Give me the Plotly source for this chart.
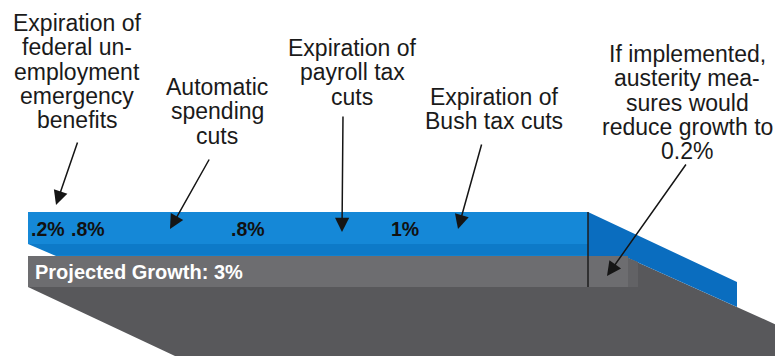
import plotly.graph_objects as go

# ---------------- data ----------------
cut_names = ["Federal unemployment emergency benefits", "Automatic spending cuts",
             "Payroll tax cuts", "Bush tax cuts"]
cut_values = [0.2, 0.8, 0.8, 1.0]          # % of growth removed
projected_growth = 3.0                      # %
projected_label = "Projected Growth: 3%"
cut_labels = [".2%", ".8%", ".8%", "1%"]

label_lines = [
    ["Expiration of", "federal un-", "employment", "emergency", "benefits"],
    ["Automatic", "spending", "cuts"],
    ["Expiration of", "payroll tax", "cuts"],
    ["Expiration of", "Bush tax cuts"],
    ["If implemented,", "austerity mea-", "sures would", "reduce growth to", "0.2%"],
]

# ---------------- layout constants ----------------
W, H = 775, 356
X0_PX, PX_PER_PCT = 28, 200          # x axis: 0% at 28px, 200px per 1%
FONT = "Liberation Sans, Arial, sans-serif"
BLUE = "#1588d7"
BLUE_DARK = "#0d7ac8"
BLUE_SIDE = "#0a6dbf"
GRAY_BAR = "#6d6d70"
GRAY_FLOOR = "#58585b"

def px_to_x(px):
    return (px - X0_PX) / PX_PER_PCT

x_min, x_max = px_to_x(0), px_to_x(W)

blue_top, blue_bot = 212, 255.5
gray_top, gray_bot = 256, 287
depth_dx = px_to_x(737) - px_to_x(588)   # perspective offset (x units)
depth_dy = 70                              # perspective offset (px units)

bases = []
acc = 0.0
for v in cut_values:
    bases.append(acc)
    acc += v
total_cuts = acc

fig = go.Figure()

# stacked blue bar of cuts
for name, v, b in zip(cut_names, cut_values, bases):
    fig.add_trace(go.Bar(
        orientation="h", y=[(blue_top + blue_bot) / 2], x=[v], base=[b],
        width=blue_bot - blue_top, marker=dict(color=BLUE, line=dict(width=0)),
        name=name, showlegend=False, hoverinfo="skip"))

# projected growth bar
fig.add_trace(go.Bar(
    orientation="h", y=[(gray_top + gray_bot) / 2], x=[projected_growth], base=[0],
    width=gray_bot - gray_top, marker=dict(color=GRAY_BAR, line=dict(width=0)),
    name="Projected growth", showlegend=False, hoverinfo="skip"))

shapes = []
# floor (perspective plane under the bars)
floor_path = (f"M {0} {gray_bot} L {projected_growth} {gray_bot} "
              f"L {projected_growth} {gray_top + 2} "
              f"L {x_max} {gray_top + 2 + (x_max - projected_growth) * PX_PER_PCT * 0.45} "
              f"L {x_max} {H} L {px_to_x(175)} {H} Z")
shapes.append(dict(type="path", path=floor_path, fillcolor=GRAY_FLOOR,
                   line=dict(width=0), layer="below", xref="x", yref="y"))
# blue ribbon going back in perspective
rx = total_cuts + depth_dx
floor_y_at_rx = gray_top + 2 + (rx - projected_growth) * PX_PER_PCT * 0.45
ribbon = (f"M {total_cuts} {blue_top} L {rx} {blue_top + depth_dy} "
          f"L {rx} {floor_y_at_rx} L {projected_growth} {gray_top + 2} "
          f"L {projected_growth} {gray_top} L {total_cuts} {gray_top} Z")
shapes.append(dict(type="path", path=ribbon, fillcolor=BLUE_SIDE,
                   line=dict(width=0), layer="below", xref="x", yref="y"))
# side face of the gray bar
side = (f"M {projected_growth} {gray_top + 2} L {projected_growth + 0.05} {gray_top + 6} "
        f"L {projected_growth + 0.05} {gray_bot} L {projected_growth} {gray_bot} Z")
shapes.append(dict(type="path", path=side, fillcolor="#626265",
                   line=dict(width=0), layer="above", xref="x", yref="y"))
# darker lower band on the blue bar
shapes.append(dict(type="rect", x0=0, x1=total_cuts, y0=244, y1=blue_bot,
                   fillcolor=BLUE_DARK, line=dict(width=0), layer="above",
                   xref="x", yref="y"))
# white notch at bottom-left of blue bar
shapes.append(dict(type="path",
                   path=f"M {x_min} 243 L 0 244 L {px_to_x(56)} {gray_top} L {x_min} {gray_top} Z",
                   fillcolor="white", line=dict(width=0), layer="above",
                   xref="x", yref="y"))
# vertical divider at end of cuts
shapes.append(dict(type="line", x0=total_cuts, x1=total_cuts, y0=blue_top, y1=gray_bot,
                   line=dict(color="#1c1c1c", width=1.5), layer="above",
                   xref="x", yref="y"))

annotations = []
# labels on blue bar
for lab, b in zip(cut_labels, bases):
    annotations.append(dict(x=b + 0.005, y=229, xref="x", yref="y", text=f"<b>{lab}</b>",
                            showarrow=False, xanchor="left", yanchor="middle",
                            font=dict(family=FONT, size=19.5, color="#111111")))
annotations.append(dict(x=px_to_x(33), y=272, xref="x", yref="y",
                        text=f"<b>{projected_label}</b>", showarrow=False,
                        xanchor="left", yanchor="middle",
                        font=dict(family=FONT, size=20, color="white")))

# callout text blocks (center x px, first line y px)
label_pos = [(77, 23), (217, 87), (352, 48), (494, 97), (687, 54)]
line_gap = 24.3
for lines, (cx, cy) in zip(label_lines, label_pos):
    for i, t in enumerate(lines):
        annotations.append(dict(x=px_to_x(cx), y=cy + i * line_gap, xref="x", yref="y",
                                text=t, showarrow=False, xanchor="center",
                                yanchor="middle",
                                font=dict(family=FONT, size=23, color="#1a1a1a")))

# arrows (tip px, tail px)
arrows = [((56, 205), (78, 141)),
          ((170, 229), (210, 158)),
          ((342, 232), (343, 115)),
          ((458, 229), (482, 143)),
          ((607, 276), (687, 163))]
for (tx, ty), (sx, sy) in arrows:
    annotations.append(dict(x=px_to_x(tx), y=ty, ax=px_to_x(sx), ay=sy,
                            xref="x", yref="y", axref="x", ayref="y", text="",
                            showarrow=True, arrowhead=2, arrowsize=1.9,
                            arrowwidth=1.5, arrowcolor="#151515", standoff=0))

fig.update_layout(
    width=W, height=H, margin=dict(l=0, r=0, t=0, b=0),
    paper_bgcolor="white", plot_bgcolor="white",
    barmode="overlay", bargap=0,
    xaxis=dict(range=[x_min, x_max], visible=False, fixedrange=True),
    yaxis=dict(range=[H, 0], visible=False, fixedrange=True),
    shapes=shapes, annotations=annotations, showlegend=False,
)

fig.write_html("out.html")
